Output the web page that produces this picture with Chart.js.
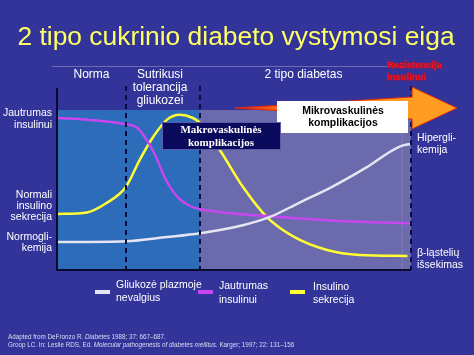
<!DOCTYPE html>
<html>
<head>
<meta charset="utf-8">
<script src="https://cdn.jsdelivr.net/npm/chart.js@4.4.1/dist/chart.umd.min.js"></script>
<style>
html,body{margin:0;padding:0;background:#32349a;}
canvas{display:block;}
</style>
</head>
<body>
<canvas id="c" width="474" height="355"></canvas>
<script>
// ---- data ----
const titleText = '2 tipo cukrinio diabeto vystymosi eiga';
const phaseBounds = [0, 19.5, 40.4, 100];
const phaseLabels = [['Norma'], ['Sutrikusi', 'tolerancija', 'gliukozei'], ['2 tipo diabetas']];

const glucoseT = [0, 19.5, 31, 40.4, 52.5, 60, 68.4, 77.7, 87.3, 96.6, 100];
const glucoseV = [17.5, 18, 20.6, 23, 28, 33, 42, 52, 64, 77, 79];

const sensT = [0, 9.3, 19.5, 22.6, 25.4, 27.7, 30.5, 33.9, 37.6, 43.2, 57.3, 77, 100];
const sensV = [95, 93.8, 91, 89, 81, 72, 57.5, 46, 40, 37, 34, 31, 29];

const secrT = [0, 8.5, 14.1, 19.5, 23.4, 27.1, 31.1, 34.7, 38.4, 40.4, 46, 52.5, 59.3, 66.7, 76.3, 85.6, 99];
const secrV = [35, 36, 42, 52, 69, 83, 94, 97, 95, 92, 75, 52, 33, 21, 12.5, 9.4, 8.8];

const seriesNames = [['Gliukozė plazmoje', 'nevalgius'], ['Jautrumas', 'insulinui'], ['Insulino', 'sekrecija']];
const seriesColors = ['#e4e4f2', '#c846f0', '#ffff33'];

const leftLabels = [['Jautrumas', 'insulinui'], ['Normali', 'insulino', 'sekrecija'], ['Normogli-', 'kemija']];
const rightLabels = [['Hipergli-', 'kemija'], ['β-ląstelių', 'išsekimas']];
const microLabel = ['Mikrovaskulinės', 'komplikacijos'];
const macroLabel = ['Makrovaskulinės', 'komplikacijos'];
const resistLabel = ['Rezistencija', 'insulinui'];
const sources = [
  'Adapted from DeFronzo R. |Diabetes| 1988; 37: 667–687.',
  'Groop LC. In: Leslie RDS, Ed. |Molecular pathogenesis of diabetes mellitus.| Karger; 1997; 22: 131–156'
];

const toPts = (t, v) => t.map((x, i) => ({x: x, y: v[i]}));

const SANS = '"Liberation Sans", Arial, sans-serif';
const SERIF = '"Liberation Serif", "Times New Roman", serif';

function lines(ctx, arr, x, y0, dy) {
  arr.forEach((s, i) => ctx.fillText(s, x, y0 + i * dy));
}

const deco = {
  id: 'deco',
  beforeDraw(chart) {
    const ctx = chart.ctx;
    ctx.save();
    ctx.fillStyle = '#32349a';
    ctx.fillRect(0, 0, chart.width, chart.height);
    ctx.restore();
  },
  beforeDatasetsDraw(chart) {
    const ctx = chart.ctx, xs = chart.scales.x, ys = chart.scales.y;
    const top = ys.getPixelForValue(100), bot = ys.getPixelForValue(0);
    ctx.save();
    // phase regions
    const xa = xs.getPixelForValue(phaseBounds[0]);
    const xb = xs.getPixelForValue(phaseBounds[2]);
    const xc = xs.getPixelForValue(phaseBounds[3]);
    ctx.fillStyle = '#2c6cb8';
    ctx.fillRect(xa, top, xb - xa, bot - top);
    ctx.fillStyle = '#6a6aad';
    ctx.fillRect(xb, top, xc - xb, bot - top);
    // faint vertical in gray area
    ctx.strokeStyle = 'rgba(140,140,190,0.6)';
    ctx.lineWidth = 1;
    ctx.beginPath();
    ctx.moveTo(xs.getPixelForValue(97.5), top);
    ctx.lineTo(xs.getPixelForValue(97.5), bot);
    ctx.stroke();
    // top faint line
    ctx.strokeStyle = '#6c6cb4';
    ctx.beginPath();
    ctx.moveTo(xa - 5, chart.chartArea.top + 0.5);
    ctx.lineTo(xc, chart.chartArea.top + 0.5);
    ctx.stroke();
    // header labels
    ctx.fillStyle = '#ffffff';
    ctx.font = '12px ' + SANS;
    ctx.textAlign = 'center';
    ctx.textBaseline = 'middle';
    phaseLabels.forEach((lab, i) => {
      const cx = xs.getPixelForValue((phaseBounds[i] + phaseBounds[i + 1]) / 2);
      lines(ctx, lab, cx - (i === 1 ? 3 : 0) - (i === 2 ? 2 : 0), 75, 12.6);
    });
    ctx.restore();
  },
  afterDatasetsDraw(chart) {
    const ctx = chart.ctx, xs = chart.scales.x, ys = chart.scales.y;
    const bot = ys.getPixelForValue(0);
    ctx.save();
    // left solid line
    const x0 = Math.round(xs.getPixelForValue(phaseBounds[0]));
    ctx.strokeStyle = '#0a0a30';
    ctx.lineWidth = 2;
    ctx.beginPath();
    ctx.moveTo(x0, 88); ctx.lineTo(x0, bot + 1);
    ctx.stroke();
    // dashed dividers
    ctx.setLineDash([5, 4]);
    ctx.strokeStyle = '#0c0c40';
    [phaseBounds[1], phaseBounds[2], phaseBounds[3]].forEach(t => {
      const x = Math.round(xs.getPixelForValue(t));
      ctx.beginPath();
      ctx.moveTo(x, 86); ctx.lineTo(x, bot);
      ctx.stroke();
    });
    ctx.setLineDash([]);
    // bottom line
    ctx.strokeStyle = '#0a0a30';
    ctx.beginPath();
    ctx.moveTo(x0, bot); ctx.lineTo(xs.getPixelForValue(phaseBounds[3]), bot);
    ctx.stroke();

    // arrow
    const ay = ys.getPixelForValue(101.25);
    const ax0 = xs.getPixelForValue(50.3);
    const ax1 = xs.getPixelForValue(100.3);
    const ax2 = xs.getPixelForValue(113);
    const grad = ctx.createLinearGradient(ax0, 0, ax1, 0);
    grad.addColorStop(0, '#e0201a');
    grad.addColorStop(0.35, '#ff8a1c');
    grad.addColorStop(1, '#ff9c22');
    ctx.fillStyle = grad;
    ctx.strokeStyle = '#e02a10';
    ctx.lineWidth = 1;
    ctx.beginPath();
    ctx.moveTo(ax0, ay);
    ctx.lineTo(ax1, ay - 11);
    ctx.lineTo(ax1, ay - 21);
    ctx.lineTo(ax2, ay);
    ctx.lineTo(ax1, ay + 21);
    ctx.lineTo(ax1, ay + 11);
    ctx.closePath();
    ctx.fill();
    ctx.stroke();

    // micro box
    ctx.fillStyle = '#ffffff';
    ctx.fillRect(277, 101, 131, 32);
    ctx.fillStyle = '#000000';
    ctx.font = 'bold 10.5px ' + SANS;
    ctx.textAlign = 'center';
    ctx.textBaseline = 'middle';
    lines(ctx, microLabel, 343, 111, 12.5);

    // macro box
    ctx.fillStyle = '#0a0a5c';
    ctx.fillRect(162, 122, 119, 28);
    ctx.strokeStyle = '#5a5aa8';
    ctx.lineWidth = 1;
    ctx.strokeRect(162.5, 122.5, 118, 27);
    ctx.fillStyle = '#ffffff';
    ctx.font = 'bold 11px ' + SERIF;
    lines(ctx, macroLabel, 221, 130.5, 13);

    // resistance label
    ctx.font = 'bold 9.5px ' + SANS;
    ctx.textAlign = 'left';
    ctx.lineWidth = 1.2;
    ctx.strokeStyle = '#a01838';
    resistLabel.forEach((s, i) => { ctx.strokeText(s, 387, 65 + i * 12); });
    ctx.fillStyle = '#ee1424';
    lines(ctx, resistLabel, 387, 65, 12);

    // title
    ctx.fillStyle = '#ffff66';
    ctx.font = '26.4px ' + SANS;
    ctx.textAlign = 'center';
    ctx.textBaseline = 'alphabetic';
    ctx.fillText(titleText, 236, 45);

    // side labels
    ctx.fillStyle = '#ffffff';
    ctx.font = '10.5px ' + SANS;
    ctx.textBaseline = 'middle';
    ctx.textAlign = 'right';
    lines(ctx, leftLabels[0], 52, 113.5, 12);
    lines(ctx, leftLabels[1], 52, 195, 11);
    lines(ctx, leftLabels[2], 52, 237.5, 11);
    ctx.textAlign = 'left';
    lines(ctx, rightLabels[0], 417, 138, 12.5);
    lines(ctx, rightLabels[1], 417, 253, 12);

    // legend
    const legX = [95, 198, 290];
    const legTextX = [116, 219, 313];
    const legY = [285, 286.5, 287];
    seriesNames.forEach((nm, i) => {
      ctx.fillStyle = seriesColors[i];
      ctx.fillRect(legX[i], 290, 15, 4);
      ctx.fillStyle = '#ffffff';
      ctx.textAlign = 'left';
      lines(ctx, nm, legTextX[i], legY[i], 13.3);
    });

    // sources
    ctx.fillStyle = '#dcdcf0';
    ctx.textBaseline = 'middle';
    sources.forEach((s, i) => {
      let x = 8;
      s.split('|').forEach((part, k) => {
        ctx.font = (k % 2 ? 'italic ' : '') + '6.3px ' + SANS;
        ctx.fillText(part, x, 337 + i * 8.5);
        x += ctx.measureText(part).width;
      });
    });
    ctx.restore();
  }
};

new Chart(document.getElementById('c'), {
  type: 'line',
  data: {
    datasets: [
      {label: seriesNames[0].join(' '), data: toPts(glucoseT, glucoseV), borderColor: seriesColors[0], borderWidth: 2.5},
      {label: seriesNames[1].join(' '), data: toPts(sensT, sensV), borderColor: seriesColors[1], borderWidth: 2.5},
      {label: seriesNames[2].join(' '), data: toPts(secrT, secrV), borderColor: seriesColors[2], borderWidth: 2.5}
    ]
  },
  options: {
    responsive: false,
    animation: false,
    parsing: true,
    layout: {padding: {left: 57, right: 63, top: 66, bottom: 85}},
    elements: {point: {radius: 0}, line: {cubicInterpolationMode: 'monotone', fill: false}},
    scales: {
      x: {type: 'linear', min: 0, max: 100, display: false},
      y: {type: 'linear', min: 0, max: 127.5, display: false}
    },
    plugins: {legend: {display: false}, tooltip: {enabled: false}, title: {display: false}}
  },
  plugins: [deco]
});
</script>
</body>
</html>
